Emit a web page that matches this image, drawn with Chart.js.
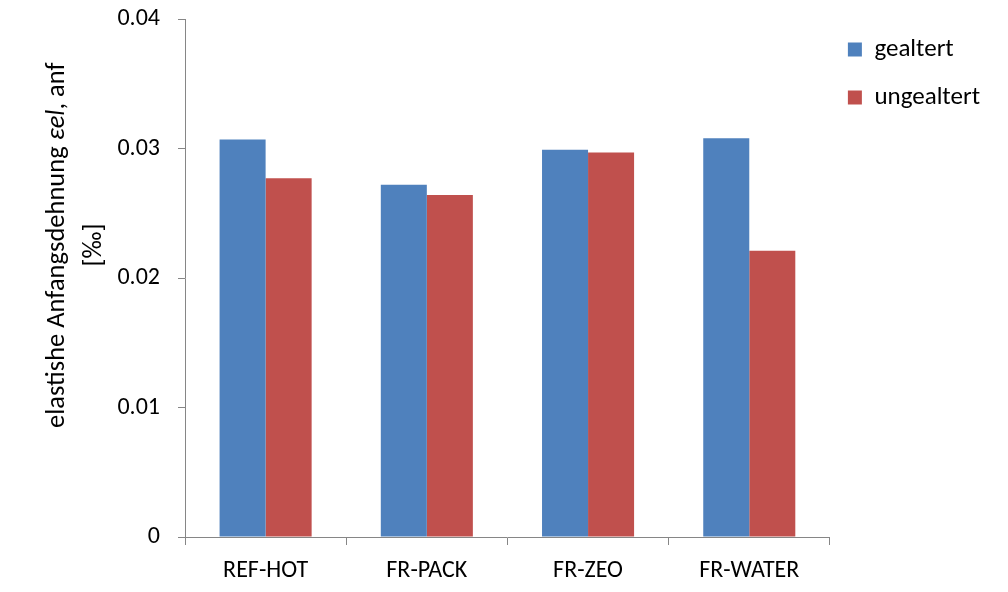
<!DOCTYPE html>
<html>
<head>
<meta charset="utf-8">
<script src="https://cdn.jsdelivr.net/npm/chart.js@4"></script>
<style>
  html, body { margin: 0; padding: 0; background: #fff; }
  #wrap { width: 1008px; height: 592px; }
</style>
</head>
<body>
<div id="wrap"><canvas id="myChart" width="1008" height="592"></canvas></div>
<script>
const labels = ['REF-HOT', 'FR-PACK', 'FR-ZEO', 'FR-WATER']
const gealtert = [0.0307, 0.0272, 0.0299, 0.0308]
const ungealtert = [0.0277, 0.0264, 0.0297, 0.0221]
const yTicks = [0, 0.01, 0.02, 0.03, 0.04]

const fontFamily = 'Carlito, Calibri, Lato, sans-serif'
const axisGray = '#868686'

// y-axis title drawn by hand (mixed italic part + two lines)
const yTitle = {
    id: 'yTitle',
    afterDraw(chart) {
        const ctx = chart.ctx
        const parts = [
            ['elastishe Anfangsdehnung ', 'normal'],
            ['\u03B5el', 'italic'],
            [', anf', 'normal']
        ]
        ctx.save()
        ctx.translate(57, 428)
        ctx.rotate(-Math.PI / 2)
        ctx.fillStyle = '#000'
        ctx.textBaseline = 'middle'
        ctx.textAlign = 'left'
        let x = 0
        parts.forEach(p => {
            ctx.font = p[1] + ' 26.5px ' + fontFamily
            ctx.fillText(p[0], x, 0)
            x += ctx.measureText(p[0]).width
        })
        ctx.font = '26px ' + fontFamily
        ctx.textAlign = 'center'
        ctx.fillText('[\u2030]', 428 - 245, 37)
        ctx.restore()
    }
}

const data = {
    labels: labels,
    datasets: [{
            label: 'gealtert',
            data: gealtert,
            backgroundColor: '#4F81BD',
            categoryPercentage: 0.571,
            barPercentage: 1
        },
        {
            label: 'ungealtert',
            data: ungealtert,
            backgroundColor: '#C0504D',
            categoryPercentage: 0.571,
            barPercentage: 1
        }
    ]
};

const config = {
    type: 'bar',
    data: data,
    plugins: [yTitle],
    options: {
        responsive: false,
        animation: false,
        layout: { padding: { top: 19, right: 18, bottom: 0, left: 10 } },
        plugins: {
            tooltip: { enabled: false },
            legend: {
                position: 'right',
                align: 'start',
                labels: {
                    boxWidth: 14,
                    boxHeight: 14,
                    padding: 18,
                    color: '#000',
                    font: { family: fontFamily, size: 25 },
                    // array text -> item height follows the line height
                    generateLabels: chart => {
                        const items = Chart.defaults.plugins.legend.labels.generateLabels(chart)
                        items.forEach(it => { it.text = [it.text] })
                        return items
                    }
                }
            }
        },
        scales: {
            x: {
                offset: true,
                grid: {
                    offset: true,
                    drawOnChartArea: false,
                    tickLength: 8,
                    color: axisGray
                },
                border: { color: axisGray },
                ticks: {
                    color: '#000',
                    padding: 12,
                    font: { family: fontFamily, size: 24 }
                },
                afterFit: s => { s.height = 55; s.paddingLeft = 0; s.paddingRight = 0 }
            },
            y: {
                min: 0,
                max: 0.04,
                afterBuildTicks: s => { s.ticks = yTicks.map(v => ({ value: v })) },
                grid: {
                    drawOnChartArea: false,
                    tickLength: 7,
                    color: axisGray
                },
                border: { color: axisGray },
                ticks: {
                    color: '#000',
                    padding: 18,
                    font: { family: fontFamily, size: 24 },
                    callback: v => String(v)
                },
                afterFit: s => { s.width = 175; s.paddingTop = 0; s.paddingBottom = 0 }
            }
        }
    }
};

var myChart = new Chart(
    document.getElementById('myChart'),
    config
)
</script>
</body>
</html>
